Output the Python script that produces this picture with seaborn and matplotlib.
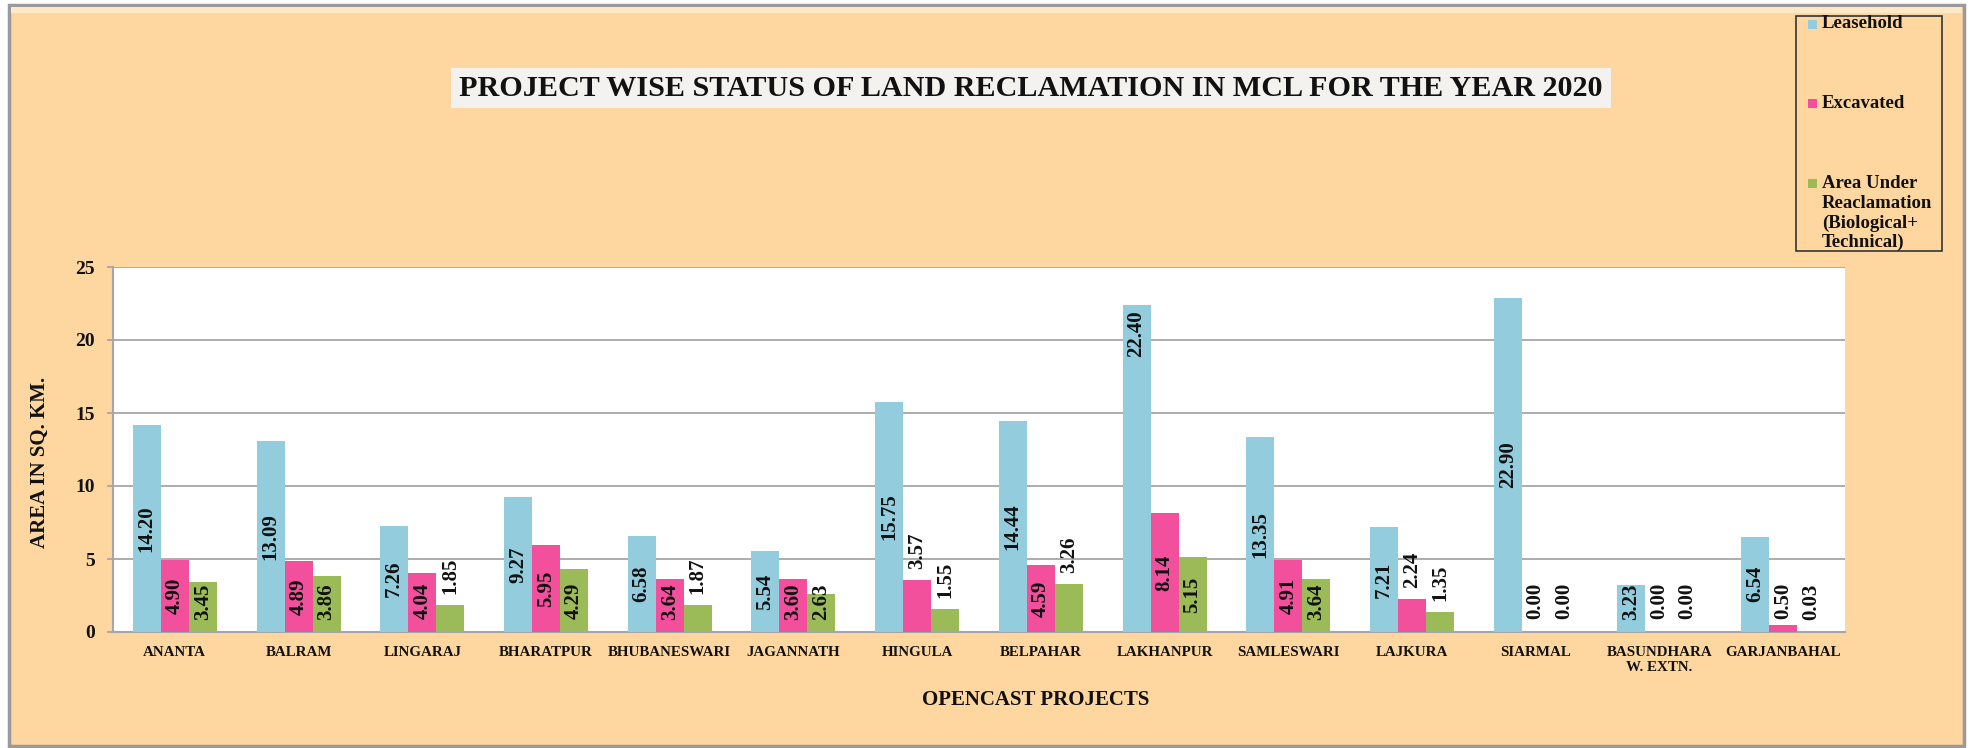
import matplotlib
matplotlib.use("Agg")
import matplotlib.pyplot as plt
from matplotlib.patches import Rectangle
import seaborn as sns
import pandas as pd

# ---------------- data ----------------
projects = ["ANANTA", "BALRAM", "LINGARAJ", "BHARATPUR", "BHUBANESWARI", "JAGANNATH",
            "HINGULA", "BELPAHAR", "LAKHANPUR", "SAMLESWARI", "LAJKURA", "SIARMAL",
            "BASUNDHARA\nW. EXTN.", "GARJANBAHAL"]
series = ["Leasehold", "Excavated", "Area Under\nReaclamation\n(Biological+\nTechnical)"]
leasehold = [14.20, 13.09, 7.26, 9.27, 6.58, 5.54, 15.75, 14.44, 22.40, 13.35, 7.21, 22.90, 3.23, 6.54]
excavated = [4.90, 4.89, 4.04, 5.95, 3.64, 3.60, 3.57, 4.59, 8.14, 4.91, 2.24, 0.00, 0.00, 0.50]
reclaimed = [3.45, 3.86, 1.85, 4.29, 1.87, 2.63, 1.55, 3.26, 5.15, 3.64, 1.35, 0.00, 0.00, 0.03]
y_ticks = [0, 5, 10, 15, 20, 25]

title = "PROJECT WISE STATUS OF LAND RECLAMATION IN MCL FOR THE YEAR 2020"
x_label = "OPENCAST PROJECTS"
y_label = "AREA IN SQ. KM."

# label placement styles (series index, project index)
labels_above = {(2, 2), (2, 4), (1, 6), (2, 6), (2, 7), (1, 10), (2, 10)}
labels_end = {(0, 8)}

colors = ["#93CDDD", "#F24F9C", "#9BBB59"]
bg = "#FDD6A0"

rows = []
for vals, s in zip([leasehold, excavated, reclaimed], series):
    for p, v in zip(projects, vals):
        rows.append({"Project": p, "Series": s, "Value": v})
df = pd.DataFrame(rows)

# ---------------- figure ----------------
sns.set_theme(style="white")
plt.rcParams["font.family"] = ["Liberation Serif", "DejaVu Serif"]
plt.rcParams["font.weight"] = "bold"

W, H = 1971, 748
fig = plt.figure(figsize=(W / 100, H / 100), dpi=100)
fig.patch.set_facecolor("white")

def fx(px):
    return px / W

def fy(py):
    return 1 - py / H

# outer chart frame
fig.patches.append(Rectangle((fx(9), fy(746)), fx(1964) - fx(9), fy(5) - fy(746),
                             transform=fig.transFigure, facecolor=bg,
                             edgecolor="#9A9A9A", linewidth=2.5, zorder=-2))
fig.patches.append(Rectangle((fx(11), fy(13)), fx(1962) - fx(11), fy(7) - fy(13),
                             transform=fig.transFigure, facecolor="#FEE9C6",
                             edgecolor="none", zorder=-1))

ax = fig.add_axes([fx(113), fy(632), fx(1845) - fx(113), fy(267) - fy(632)])
ax.set_zorder(2)
ax.set_facecolor("white")

sns.barplot(data=df, x="Project", y="Value", hue="Series", hue_order=series,
            order=projects, palette=colors, width=0.68, saturation=1,
            legend=False, ax=ax, edgecolor="none", linewidth=0, zorder=3)

ax.set_ylim(0, 25)
ax.set_xlim(-0.5, len(projects) - 0.5)
ax.set_yticks(y_ticks)
ax.yaxis.grid(True, color="#A6A6A6", linewidth=1.3, zorder=0)
ax.xaxis.grid(False)
ax.set_axisbelow(True)
for side in ["top", "right"]:
    ax.spines[side].set_visible(False)
for side in ["left", "bottom"]:
    ax.spines[side].set_color("#A6A6A6")
    ax.spines[side].set_linewidth(1.5)

ax.tick_params(axis="y", length=4, color="#A6A6A6", width=1.3, pad=9,
               labelsize=14, left=True)
ax.tick_params(axis="x", length=0, pad=10, labelsize=10.8)
for t in ax.get_xticklabels() + ax.get_yticklabels():
    t.set_fontweight("bold")
    t.set_color("#111111")

ax.set_xlabel(x_label, fontsize=15, fontweight="bold", color="#111111")
ax.set_ylabel(y_label, fontsize=15, fontweight="bold", color="#111111")
ax.xaxis.set_label_coords((1036 - 113) / 1732, (632 - 690) / 365)
ax.yaxis.set_label_coords((50 - 113) / 1732, (632 - 462) / 365)

# data labels
for si, cont in enumerate(ax.containers):
    for pi, bar in enumerate(cont):
        v = bar.get_height()
        xc = bar.get_x() + bar.get_width() / 2
        txt = f"{v:.2f}"
        if (si, pi) in labels_above:
            ax.annotate(txt, (xc, v), xytext=(0, 8), textcoords="offset points",
                        rotation=90, ha="center", va="bottom", fontsize=15,
                        fontweight="bold", color="#111111", zorder=5)
        elif (si, pi) in labels_end:
            ax.annotate(txt, (xc, v), xytext=(0, -4), textcoords="offset points",
                        rotation=90, ha="center", va="top", fontsize=15,
                        fontweight="bold", color="#111111", zorder=5)
        else:
            ax.text(xc, max(v / 2, 2.1), txt, rotation=90, ha="center",
                    va="center", fontsize=15, fontweight="bold",
                    color="#111111", zorder=5)

# title with light box
fig.patches.append(Rectangle((fx(451), fy(108)), fx(1611) - fx(451), fy(68) - fy(108),
                             transform=fig.transFigure, facecolor="#F3F2EE",
                             edgecolor="none", zorder=1))
tt = fig.text(fx(1031), fy(89), title, ha="center", va="center",
              fontsize=20, fontweight="bold", color="#111111", zorder=2)
fig.canvas.draw()
bb = tt.get_window_extent(renderer=fig.canvas.get_renderer())
tt.set_fontsize(20 * 1140 / bb.width)

# legend (manual, matching the reference layout)
fig.patches.append(Rectangle((fx(1796), fy(251)), fx(1942) - fx(1796), fy(16) - fy(251),
                             transform=fig.transFigure, facecolor="none",
                             edgecolor="#333333", linewidth=1.2, zorder=2))
leg_rows = [(colors[0], [("Leasehold", 24)]),
            (colors[1], [("Excavated", 103)]),
            (colors[2], [("Area Under", 183), ("Reaclamation", 203),
                         ("(Biological+", 223), ("Technical)", 242)])]
for col, lines in leg_rows:
    y0 = lines[0][1]
    fig.patches.append(Rectangle((fx(1808), fy(y0 + 5)), fx(1817) - fx(1808), fy(y0 - 4) - fy(y0 + 5),
                                 transform=fig.transFigure, facecolor=col,
                                 edgecolor="none", zorder=3))
    for s, yy in lines:
        fig.text(fx(1822), fy(yy), s, ha="left", va="center", fontsize=13.5,
                 fontweight="bold", color="#111111", zorder=3)

fig.savefig("out.png", dpi=100, facecolor=fig.get_facecolor())
